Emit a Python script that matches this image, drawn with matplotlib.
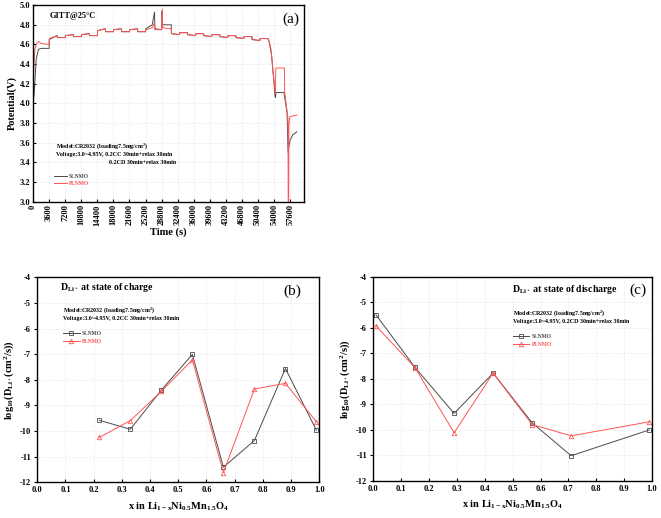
import matplotlib
matplotlib.use('Agg')
import matplotlib.pyplot as plt
import numpy as np

# ---- data ----
# (a) GITT curves, time (s) / potential (V)
sl_time = [0, 250, 700, 1200, 1800, 3600, 3650, 5400, 5450, 7200, 7250, 9000, 9050,
           10800, 10850, 12600, 12650, 14400, 14450, 16200, 16250, 18000, 18050, 19800,
           19850, 21600, 21650, 23400, 23450, 25200, 25250, 26700, 27200, 27300, 28800,
           28900, 29000, 30950, 31000, 32800, 32850, 34600, 34650, 36400, 36450, 38200,
           38250, 40000, 40050, 41800, 41850, 43600, 43650, 45400, 45450, 47200, 47250,
           49000, 49050, 50800, 50850, 52600, 52900, 53400, 53900, 54200, 54300, 54400,
           56200, 56500, 56900, 57050, 57150, 57300, 57600, 58200, 59100]
sl_volt = [4.00, 4.10, 4.45, 4.55, 4.56, 4.56, 4.65, 4.69, 4.67, 4.67, 4.69, 4.70, 4.68,
           4.68, 4.70, 4.71, 4.69, 4.69, 4.74, 4.76, 4.73, 4.73, 4.75, 4.76, 4.73, 4.73,
           4.75, 4.76, 4.73, 4.73, 4.76, 4.80, 4.93, 4.76, 4.75, 4.94, 4.80, 4.80, 4.71,
           4.70, 4.72, 4.72, 4.70, 4.69, 4.71, 4.71, 4.69, 4.68, 4.70, 4.70, 4.68, 4.67,
           4.69, 4.69, 4.67, 4.66, 4.68, 4.68, 4.65, 4.64, 4.66, 4.66, 4.62, 4.50, 4.25,
           4.07, 4.06, 4.11, 4.11, 4.02, 3.90, 3.60, 3.50, 3.56, 3.63, 3.68, 3.71]

pl_time = [0, 150, 400, 800, 1300, 1800, 3600, 3650, 5400, 5450, 7200, 7250, 9000, 9050,
           10800, 10850, 12600, 12650, 14400, 14450, 16200, 16250, 18000, 18050, 19800,
           19850, 21600, 21650, 23400, 23450, 25200, 25250, 26700, 27200, 27300, 28800,
           28950, 29050, 30950, 31000, 32800, 32850, 34600, 34650, 36400, 36450, 38200,
           38250, 40000, 40050, 41800, 41850, 43600, 43650, 45400, 45450, 47200, 47250,
           49000, 49050, 50800, 50850, 52600, 52900, 53300, 53800, 54200, 54300, 54350,
           54500, 56300, 56350, 56800, 57100, 57150, 57250, 57300, 57500, 58000, 59100]
pl_volt = [4.10, 4.35, 4.55, 4.61, 4.63, 4.61, 4.60, 4.66, 4.69, 4.67, 4.67, 4.69, 4.70,
           4.68, 4.68, 4.70, 4.71, 4.69, 4.69, 4.74, 4.76, 4.73, 4.73, 4.75, 4.76, 4.73,
           4.73, 4.75, 4.76, 4.73, 4.73, 4.75, 4.77, 4.82, 4.75, 4.75, 4.96, 4.77, 4.76,
           4.71, 4.70, 4.72, 4.72, 4.70, 4.69, 4.71, 4.71, 4.69, 4.68, 4.70, 4.70, 4.68,
           4.67, 4.69, 4.69, 4.67, 4.66, 4.68, 4.68, 4.65, 4.64, 4.66, 4.66, 4.63, 4.55,
           4.30, 4.12, 4.10, 4.35, 4.36, 4.36, 4.12, 3.95, 3.85, 3.00, 3.00, 3.78, 3.86,
           3.87, 3.88]

# (b) diffusion coefficient at state of charge
x_charge = [0.22, 0.33, 0.44, 0.55, 0.66, 0.77, 0.88, 0.99]
sl_charge = [-9.58, -9.93, -8.40, -7.01, -11.41, -10.37, -7.56, -9.97]
pl_charge = [-10.25, -9.59, -8.45, -7.22, -11.62, -8.36, -8.14, -9.64]

# (c) diffusion coefficient at state of discharge
x_dis = [0.01, 0.15, 0.29, 0.43, 0.57, 0.71, 0.99]
sl_dis = [-5.50, -7.56, -9.36, -7.78, -9.73, -11.02, -10.01]
pl_dis = [-5.93, -7.57, -10.12, -7.78, -9.80, -10.24, -9.69]

gray = '#4a4a4a'
red = '#ff5555'

plt.rcParams['font.family'] = 'Liberation Serif'
plt.rcParams['font.weight'] = 'bold'
plt.rcParams['axes.labelweight'] = 'bold'
plt.rcParams['axes.unicode_minus'] = False
plt.rcParams['mathtext.fontset'] = 'custom'
plt.rcParams['mathtext.rm'] = 'Liberation Serif:bold'
plt.rcParams['mathtext.it'] = 'Liberation Serif:bold'
plt.rcParams['mathtext.bf'] = 'Liberation Serif:bold'

fig = plt.figure(figsize=(6.61, 5.18), dpi=100)
ax_a = fig.add_axes([0.050, 0.611, 0.410, 0.379])
ax_b = fig.add_axes([0.0564, 0.0689, 0.4266, 0.3958])
ax_c = fig.add_axes([0.5647, 0.072, 0.4217, 0.3938])

for ax in (ax_a, ax_b, ax_c):
    for sp in ax.spines.values():
        sp.set_linewidth(1.0)
    ax.grid(True, color='#dcdcdc', linestyle=':', linewidth=0.5)
    ax.set_axisbelow(True)

# ---- (a) ----
ax_a.plot(sl_time, sl_volt, color=gray, lw=0.7, label='SLNMO')
ax_a.plot(pl_time, pl_volt, color=red, lw=0.7, label='PLNMO')
ax_a.set_xlim(0, 60700)
ax_a.set_ylim(3.0, 5.0)
ax_a.set_xticks(range(0, 57601, 3600))
ax_a.set_xticklabels([str(t) for t in range(0, 57601, 3600)], rotation=90)
ax_a.set_yticks(np.arange(3.0, 5.01, 0.2))
ax_a.set_yticklabels([f'{v:.1f}' for v in np.arange(3.0, 5.01, 0.2)])
ax_a.tick_params(direction='in', labelsize=6, length=2.5, width=0.8, pad=2)
ax_a.set_xlabel('Time (s)', fontsize=7.5, labelpad=1)
ax_a.set_ylabel('Potential(V)', fontsize=7.5, labelpad=2)
ax_a.text(0.062, 0.944, 'GITT@25°C', transform=ax_a.transAxes, fontsize=6, va='center')
ax_a.text(0.95, 0.93, '(a)', transform=ax_a.transAxes, fontsize=11, weight='normal',
          ha='center', va='center')
ax_a.text(0.084, 0.285, r'Model:CR2032 (loading7.5mg/cm$\mathregular{^2}$)',
          transform=ax_a.transAxes, fontsize=4.3, va='center')
ax_a.text(0.084, 0.241, 'Voltage:3.0~4.95V, 0.2CC 30min+relax 30min',
          transform=ax_a.transAxes, fontsize=4.3, va='center')
ax_a.text(0.28, 0.197, '0.2CD 30min+relax 30min',
          transform=ax_a.transAxes, fontsize=4.3, va='center')
ax_a.legend(loc='center left', bbox_to_anchor=(0.078, 0.109), fontsize=4, frameon=False,
            handlelength=2.3, handletextpad=0.4, labelspacing=0.45, borderpad=0,
            borderaxespad=0, labelcolor='linecolor')

# ---- (b) and (c) ----
def diff_panel(ax, xs, sl, pl, title, volt_text, letter, tx, tlet, ttxt, tleg):
    ax.plot(xs, sl, color=gray, lw=0.7, marker='s', ms=3, mfc='none', mew=0.6,
            label='SLNMO')
    ax.plot(xs, pl, color=red, lw=0.7, marker='^', ms=3.2, mfc='none', mew=0.6,
            label='PLNMO')
    ax.set_xlim(0, 1.0)
    ax.set_ylim(-12, -4)
    ax.set_xticks(np.arange(0, 1.01, 0.1))
    ax.set_xticklabels([f'{v:.1f}' for v in np.arange(0, 1.01, 0.1)])
    ax.set_yticks(range(-12, -3))
    ax.tick_params(axis='x', direction='in', labelsize=6, length=2.5, width=0.8, pad=3)
    ax.tick_params(axis='y', direction='out', labelsize=6, length=2.5, width=0.8, pad=2)
    ax.set_xlabel(r'x in Li$\mathregular{_{1-x}}$Ni$\mathregular{_{0.5}}$'
                  r'Mn$\mathregular{_{1.5}}$O$\mathregular{_4}$', fontsize=7.5, labelpad=4)
    ax.set_ylabel(r'log$\mathregular{_{10}}$(D$\mathregular{_{Li^+}}$'
                  r'(cm$\mathregular{^2}$/s))', fontsize=7.5, labelpad=3)
    ax.text(tx[0], tx[1], title, transform=ax.transAxes, fontsize=7, va='center')
    ax.text(tlet[0], tlet[1], letter, transform=ax.transAxes, fontsize=11,
            weight='normal', ha='center', va='center')
    ax.text(ttxt[0], ttxt[1], r'Model:CR2032 (loading7.5mg/cm$\mathregular{^2}$)',
            transform=ax.transAxes, fontsize=4.3, va='center')
    ax.text(ttxt[0], ttxt[1] - 0.04, volt_text, transform=ax.transAxes, fontsize=4.3,
            va='center')
    ax.legend(loc='center left', bbox_to_anchor=tleg, fontsize=4, frameon=False,
              handlelength=3, handletextpad=0.4, labelspacing=0.5, borderpad=0,
              borderaxespad=0, labelcolor='linecolor')

diff_panel(ax_b, x_charge, sl_charge, pl_charge,
           r'D$\mathregular{_{Li^+}}$ at state of charge',
           'Voltage:3.0~4.95V, 0.2CC 30min+relax 30min', '(b)',
           (0.08, 0.948), (0.905, 0.93), (0.091, 0.84), (0.091, 0.707))
diff_panel(ax_c, x_dis, sl_dis, pl_dis,
           r'D$\mathregular{_{Li^+}}$ at state of discharge',
           'Voltage:3.0~4.95V, 0.2CD 30min+relax 30min', '(c)',
           (0.497, 0.938), (0.95, 0.935), (0.50, 0.822), (0.50, 0.686))

fig.savefig('out.png', dpi=100)
